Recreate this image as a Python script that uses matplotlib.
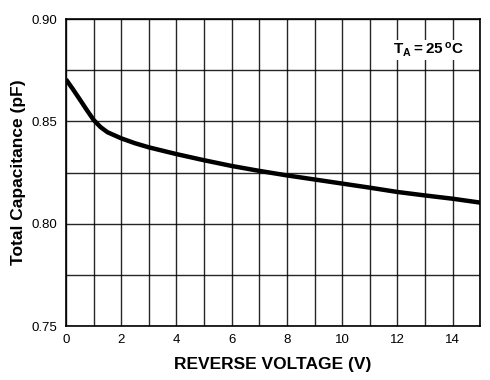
import matplotlib
matplotlib.use("Agg")
import matplotlib.pyplot as plt
import numpy as np

plt.rcParams['font.family'] = ['Liberation Sans', 'DejaVu Sans']
plt.rcParams['mathtext.fontset'] = 'custom'
plt.rcParams['mathtext.rm'] = 'Liberation Sans'
plt.rcParams['mathtext.bf'] = 'Liberation Sans:bold'

voltage = [0, 0.25, 0.5, 0.75, 1, 1.25, 1.5, 2, 2.5, 3, 4, 5, 6, 7, 8, 9, 10, 11, 12, 13, 14, 15]
capacitance = [0.8705, 0.8657, 0.8607, 0.8556, 0.8507, 0.8472, 0.8447, 0.8417, 0.8393, 0.8373,
               0.8340, 0.8310, 0.8282, 0.8258, 0.8236, 0.8216, 0.8196, 0.8176, 0.8155, 0.8138,
               0.8122, 0.8103]
xticks = [0, 2, 4, 6, 8, 10, 12, 14]
yticks = [0.75, 0.80, 0.85, 0.90]

fig = plt.figure(figsize=(4.9, 3.8), dpi=100)
ax = fig.add_axes([0.1347, 0.142, 0.8453, 0.808])

ax.plot(voltage, capacitance, color='black', lw=3.2, solid_capstyle='butt',
        solid_joinstyle='round', zorder=3)

ax.set_xlim(0, 15)
ax.set_ylim(0.75, 0.90)
ax.set_xticks(xticks)
ax.set_xticklabels([str(v) for v in xticks])
ax.set_yticks(yticks)
ax.set_yticklabels([f"{v:.2f}" for v in yticks])
ax.set_xticks(np.arange(0, 16, 1), minor=True)
ax.set_yticks(np.arange(0.75, 0.90001, 0.025), minor=True)
ax.grid(True, which='both', color='black', lw=1.0, alpha=0.85)
ax.tick_params(which='both', length=0, labelsize=9.5, pad=6)
for s in ax.spines.values():
    s.set_linewidth(1.2)

ax.set_xlabel('REVERSE VOLTAGE (V)', fontsize=12.5, fontweight='bold', labelpad=8)
ax.set_ylabel('Total Capacitance (pF)', fontsize=12.5, fontweight='bold', labelpad=4)

ax.text(0.79, 0.899, r'$\mathbf{T_A = 25\,^{o}C}$', transform=ax.transAxes, fontsize=11,
        ha='left', va='center', zorder=4,
        bbox=dict(facecolor='white', edgecolor='none', pad=0.3))

fig.savefig('out.png', dpi=100)
